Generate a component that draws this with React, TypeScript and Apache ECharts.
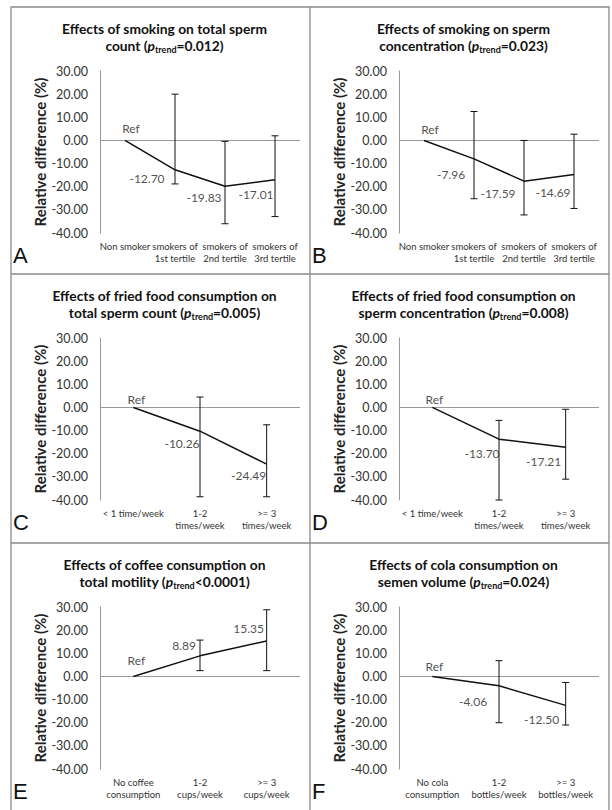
import React, { useEffect, useRef } from 'react';
import * as echarts from 'echarts';

// ---- categories ----
const catsSmoking = ['Non smoker', 'smokers of\n1st tertile', 'smokers of\n2nd tertile', 'smokers of\n3rd tertile'];
const catsFried = ['< 1 time/week', '1-2\ntimes/week', '>= 3\ntimes/week'];
const catsCoffee = ['No coffee\nconsumption', '1-2\ncups/week', '>= 3\ncups/week'];
const catsCola = ['No cola\nconsumption', '1-2\nbottles/week', '>= 3\nbottles/week'];

// ---- values (relative difference, %) and CI bounds ----
const valuesA = [0, -12.70, -19.83, -17.01];
const upperA = [null, 20.0, -0.4, 2.0];
const lowerA = [null, -18.8, -36.0, -32.9];

const valuesB = [0, -7.96, -17.59, -14.69];
const upperB = [null, 12.5, 0.0, 2.7];
const lowerB = [null, -25.2, -32.2, -29.4];

const valuesC = [0, -10.26, -24.49];
const upperC = [null, 4.5, -7.5];
const lowerC = [null, -38.6, -38.6];

const valuesD = [0, -13.70, -17.21];
const upperD = [null, -5.6, -0.8];
const lowerD = [null, -40.0, -31.0];

const valuesE = [0, 8.89, 15.35];
const upperE = [null, 15.7, 28.8];
const lowerE = [null, 2.5, 2.5];

const valuesF = [0, -4.06, -12.50];
const upperF = [null, 6.8, -2.6];
const lowerF = [null, -20.0, -21.0];

// ---- titles ----
const titleLine1 = [
  'Effects of smoking on total sperm',
  'Effects of smoking on sperm',
  'Effects of fried food consumption on',
  'Effects of fried food consumption on',
  'Effects of coffee consumption on',
  'Effects of cola consumption on',
];
const titleLine2Lead = ['count (', 'concentration (', 'total sperm count (', 'sperm concentration (', 'total motility (', 'semen volume ('];
const titleLine2Tail = ['=0.012)', '=0.023)', '=0.005)', '=0.008)', '<0.0001)', '=0.024)'];
const panelLetters = ['A', 'B', 'C', 'D', 'E', 'F'];
const yTitle = 'Relative difference (%)';
const refLabel = 'Ref';

// ---- layout (label offsets relative to points) ----
const offsA = [[6, -12], [-28, 9], [-21, 11], [-19, 15]];
const offsB = [[6, -11], [-23, 16], [-26, 12], [-21, 18]];
const offsC = [[3, -8], [-18, 12], [-18, 11]];
const offsD = [[2, -8], [-17, 14], [-22, 14]];
const offsE = [[3, -16], [-16, -10], [-18, -12]];
const offsF = [[2, -10], [-26, 16], [-24, 14]];

const panelData = [
  { cats: catsSmoking, values: valuesA, upper: upperA, lower: lowerA, offs: offsA },
  { cats: catsSmoking, values: valuesB, upper: upperB, lower: lowerB, offs: offsB },
  { cats: catsFried, values: valuesC, upper: upperC, lower: lowerC, offs: offsC },
  { cats: catsFried, values: valuesD, upper: upperD, lower: lowerD, offs: offsD },
  { cats: catsCoffee, values: valuesE, upper: upperE, lower: lowerE, offs: offsE },
  { cats: catsCola, values: valuesF, upper: upperF, lower: lowerF, offs: offsF },
];

const PANEL_X = [11, 310];
const PANEL_Y = [7, 274, 543];
const PANEL_W = 299;
const FONT = 'Lato, "Open Sans", sans-serif';

export default function App() {
  const ref = useRef<HTMLDivElement>(null);

  useEffect(() => {
    if (!ref.current) return;
    const chart = echarts.init(ref.current, undefined, { renderer: 'svg' });

    const grids: any[] = [];
    const xAxes: any[] = [];
    const yAxes: any[] = [];
    const series: any[] = [];
    const graphics: any[] = [];

    // borders
    graphics.push({
      type: 'rect',
      shape: { x: 11, y: 7, width: 598, height: 810 },
      style: { fill: 'none', stroke: '#8a8a8a', lineWidth: 1.3 },
      silent: true,
    });
    graphics.push({ type: 'line', shape: { x1: 310, y1: 7, x2: 310, y2: 812 }, style: { stroke: '#8a8a8a', lineWidth: 1.3 } });
    graphics.push({ type: 'line', shape: { x1: 11, y1: 274, x2: 609, y2: 274 }, style: { stroke: '#8a8a8a', lineWidth: 1.3 } });
    graphics.push({ type: 'line', shape: { x1: 11, y1: 543, x2: 609, y2: 543 }, style: { stroke: '#8a8a8a', lineWidth: 1.3 } });

    panelData.forEach((p, i) => {
      const px = PANEL_X[i % 2];
      const py = PANEL_Y[Math.floor(i / 2)];

      grids.push({ left: px + 89, top: py + 64, width: 200, height: 162 });

      xAxes.push({
        type: 'category',
        gridIndex: i,
        data: p.cats,
        axisLine: { show: false },
        axisTick: { show: false },
        axisLabel: {
          interval: 0,
          fontFamily: FONT,
          fontSize: 9.5,
          lineHeight: 12,
          color: '#333',
          margin: 7,
        },
      });

      yAxes.push({
        type: 'value',
        gridIndex: i,
        min: -40,
        max: 30,
        interval: 10,
        axisLine: { show: true, lineStyle: { color: '#999', width: 1 } },
        axisTick: { show: false },
        splitLine: { show: false },
        axisLabel: {
          formatter: (v: number) => v.toFixed(2),
          fontFamily: FONT,
          fontSize: 12.5,
          color: '#333',
          margin: 12,
        },
        name: yTitle,
        nameLocation: 'middle',
        nameRotate: 90,
        nameGap: 48,
        nameTextStyle: { fontFamily: FONT, fontSize: 15, fontWeight: 'bold', color: '#222' },
      });

      // main line + zero line
      series.push({
        type: 'line',
        xAxisIndex: i,
        yAxisIndex: i,
        data: p.values,
        symbol: 'none',
        lineStyle: { color: '#111', width: 1.5 },
        z: 3,
        markLine: {
          silent: true,
          symbol: ['none', 'none'],
          label: { show: false },
          lineStyle: { color: '#999', type: 'solid', width: 1 },
          data: [{ yAxis: 0 }],
          z: 1,
        },
      });

      // error bars
      const ebData: any[] = [];
      p.values.forEach((_, k) => {
        if (p.upper[k] != null && p.lower[k] != null) ebData.push([k, p.upper[k], p.lower[k]]);
      });
      series.push({
        type: 'custom',
        xAxisIndex: i,
        yAxisIndex: i,
        data: ebData,
        encode: { x: 0, y: [1, 2] },
        z: 2,
        renderItem: (params: any, api: any) => {
          const x = api.value(0);
          const top = api.coord([x, api.value(1)]);
          const bot = api.coord([x, api.value(2)]);
          const w = 3.5;
          const st = { stroke: '#111', lineWidth: 1 };
          return {
            type: 'group',
            children: [
              { type: 'line', shape: { x1: top[0], y1: top[1], x2: bot[0], y2: bot[1] }, style: st },
              { type: 'line', shape: { x1: top[0] - w, y1: top[1], x2: top[0] + w, y2: top[1] }, style: st },
              { type: 'line', shape: { x1: bot[0] - w, y1: bot[1], x2: bot[0] + w, y2: bot[1] }, style: st },
            ],
          };
        },
      });

      // data labels
      series.push({
        type: 'scatter',
        xAxisIndex: i,
        yAxisIndex: i,
        symbolSize: 1,
        itemStyle: { color: 'rgba(0,0,0,0)' },
        z: 4,
        data: p.values.map((v, k) => ({ value: v, label: { offset: p.offs[k] } })),
        label: {
          show: true,
          position: 'inside',
          fontFamily: FONT,
          fontSize: 12,
          color: '#222',
          formatter: (prm: any) => (prm.dataIndex === 0 ? refLabel : Number(prm.value).toFixed(2)),
        },
      });

      // title
      graphics.push({
        type: 'text',
        x: px + PANEL_W / 2 + 4,
        y: py + 30,
        style: {
          text: `{b|${titleLine1[i]}}\n{b|${titleLine2Lead[i]}}{i|p}{s|trend}{b|${titleLine2Tail[i]}}`,
          align: 'center',
          verticalAlign: 'middle',
          rich: {
            b: { fontFamily: FONT, fontSize: 13.8, fontWeight: 'bold', fill: '#111', lineHeight: 17 },
            i: { fontFamily: FONT, fontSize: 13.8, fontWeight: 'bold', fontStyle: 'italic', fill: '#111', lineHeight: 17 },
            s: { fontFamily: FONT, fontSize: 9, fontWeight: 'bold', fill: '#111', verticalAlign: 'bottom', lineHeight: 9 },
          },
        },
      });

      // panel letter
      graphics.push({
        type: 'text',
        x: px + 2,
        y: py + 248,
        style: {
          text: panelLetters[i],
          fontFamily: '"Liberation Sans", Arial, sans-serif',
          fontSize: 22,
          fill: '#111',
          align: 'left',
          verticalAlign: 'middle',
        },
      });
    });

    chart.setOption({
      animation: false,
      backgroundColor: '#fff',
      grid: grids,
      xAxis: xAxes,
      yAxis: yAxes,
      series,
      graphic: graphics,
    });

    return () => chart.dispose();
  }, []);

  return (
    <div
      ref={ref}
      style={{ position: 'absolute', left: 0, top: 0, width: 612, height: 810, background: '#fff' }}
    />
  );
}
